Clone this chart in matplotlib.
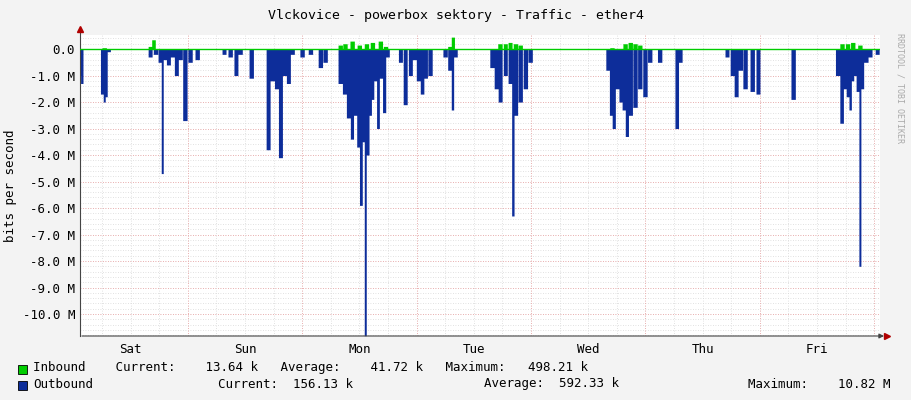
import numpy as np
import matplotlib
matplotlib.use("Agg")
import matplotlib.pyplot as plt
from matplotlib.ticker import FixedLocator

# hours since Saturday 00:00
out_hours = [1.4,1.6,6.1,6.5,6.9,7.3,16.1,17.2,18.2,18.6,19.1,19.9,20.8,21.6,22.4,23.4,24.5,26.0,
             31.6,32.9,34.1,35.0,37.3,40.9,41.7,42.6,43.4,44.3,45.1,45.9,48.0,49.7,51.8,52.8,
             56.0,56.8,57.7,58.5,59.1,59.7,60.4,60.8,61.2,61.7,62.3,62.7,63.3,63.9,64.5,65.2,65.8,
             68.6,69.6,70.7,71.5,72.3,73.2,73.8,74.8,78.0,79.0,79.5,80.1,
             87.8,88.7,89.5,90.6,91.6,92.2,92.7,93.7,94.8,95.8,
             112.1,112.8,113.2,114.1,114.7,115.5,116.1,116.8,117.8,118.8,119.9,120.9,123.0,126.6,127.2,
             137.1,138.2,139.0,139.9,140.9,142.4,143.6,151.0,
             160.3,161.2,161.8,162.4,162.9,163.5,163.9,164.5,165.0,165.4,166.2,167.1,168.6]
out_vals = [-1.0,-1.3,-1.7,-2.0,-1.8,-0.1,-0.3,-0.2,-0.5,-4.7,-0.4,-0.6,-0.3,-1.0,-0.4,-2.7,-0.5,-0.4,
            -0.2,-0.3,-1.0,-0.2,-1.1,-3.8,-1.2,-1.5,-4.1,-1.0,-1.3,-0.2,-0.3,-0.2,-0.7,-0.5,
            -1.3,-1.7,-2.6,-3.4,-2.5,-3.7,-5.9,-3.5,-10.82,-4.0,-2.5,-1.9,-1.2,-3.0,-1.1,-2.4,-0.3,
            -0.5,-2.1,-1.0,-0.4,-1.2,-1.7,-1.1,-1.0,-0.3,-0.8,-2.3,-0.3,
            -0.7,-1.5,-2.0,-1.0,-1.3,-6.3,-2.5,-2.0,-1.5,-0.5,
            -0.8,-2.5,-3.0,-1.5,-2.0,-2.3,-3.3,-2.5,-2.2,-1.5,-1.8,-0.5,-0.5,-3.0,-0.5,
            -0.3,-1.0,-1.8,-0.8,-1.5,-1.6,-1.7,-1.9,
            -1.0,-2.8,-1.5,-1.8,-2.3,-1.2,-1.0,-1.6,-8.2,-1.5,-0.5,-0.3,-0.2]
in_hours = [6.5,16.1,16.7,56.0,57.0,58.5,60.0,61.5,62.7,64.4,65.5,79.0,79.5,
            89.5,90.6,91.6,92.7,93.7,113.0,115.7,116.8,117.8,118.8,161.2,162.4,163.5,165.0]
in_vals = [0.05,0.1,0.35,0.15,0.2,0.3,0.15,0.2,0.25,0.3,0.1,0.1,0.45,
           0.2,0.2,0.25,0.2,0.15,0.05,0.2,0.25,0.2,0.15,0.2,0.2,0.25,0.15]

days = ["Sat","Sun","Mon","Tue","Wed","Thu","Fri"]
yticks = [0,-1,-2,-3,-4,-5,-6,-7,-8,-9,-10]
ylabels = ["0.0"] + [f"{v:.1f} M" for v in yticks[1:]]

t = np.arange(1.4, 169.2, 1/12)
def series(h, v, w=0.45):
    h = np.array(h); v = np.array(v); res = np.zeros_like(t)
    for i, tt in enumerate(t):
        d = np.abs(h - tt); j = d.argmin()
        if d[j] <= w: res[i] = v[j]
    return res
outb = series(out_hours, out_vals)
inb = series(in_hours, in_vals)

plt.rcParams['font.family'] = ['DejaVu Sans Mono']
fig = plt.figure(figsize=(9.11, 4.0), dpi=100, facecolor='#f3f3f3')
ax = fig.add_axes([80/911, 64/400, 800/911, 301/400])
ax.set_facecolor('white')
ax.set_xlim(1.4, 169.2)
ax.set_ylim(-10.83, 0.53)
for s in ax.spines.values(): s.set_visible(False)
for y in np.arange(-10.8, 0.6, 0.2):
    ax.axhline(y, color='#d8d8d8', lw=0.6, ls=(0,(1,2)), zorder=0)
for y in yticks:
    ax.axhline(y, color='#f0a0a0', lw=0.6, ls=(0,(1,2)), zorder=0)
for x in np.arange(6, 169, 6):
    ax.axvline(x, color='#d8d8d8', lw=0.6, ls=(0,(1,2)), zorder=0)
for x in np.arange(24, 169, 24):
    ax.axvline(x, color='#f0a0a0', lw=0.6, ls=(0,(1,2)), zorder=0)
ax.fill_between(t, 0, inb, step='mid', color='#00cc00', lw=0, zorder=2)
ax.fill_between(t, 0, outb, step='mid', color='#0d2d9a', lw=0, zorder=2)
ax.axhline(0, color='#00cc00', lw=1, zorder=3)
ax.yaxis.set_major_locator(FixedLocator(yticks))
ax.set_yticklabels(ylabels)
ax.set_xticks(np.arange(12, 169, 24))
ax.set_xticklabels(days)
ax.tick_params(length=0, labelsize=9, colors='#000000')
ax.tick_params(axis='x', pad=5)
ax.set_ylabel("bits per second", fontsize=9)
ax.annotate('', xy=(1.0085, 0), xytext=(-0.001, 0), xycoords='axes fraction',
            arrowprops=dict(arrowstyle='-|>', color='#444444', lw=0.8, mutation_scale=7))
ax.plot([1.0085], [0], marker='>', color='#b00000', ms=4, transform=ax.transAxes, clip_on=False)
ax.plot([0, 0], [0, 1.02], color='#444444', lw=0.8, transform=ax.transAxes, clip_on=False)
ax.plot([0], [1.02], marker='^', color='#b00000', ms=4, transform=ax.transAxes, clip_on=False)

fig.text(0.5, 0.962, "Vlckovice - powerbox sektory - Traffic - ether4", ha='center', va='center', fontsize=9.5)
fig.text(0.988, 0.78, "RRDTOOL / TOBI OETIKER", rotation=270, ha='center', va='center', fontsize=6, color='#aaaaaa')
fs = 9
fig.patches.append(plt.Rectangle((18/911, 1-374/400), 9/911, 9/400, transform=fig.transFigure, fc='#00cc00', ec='#000000', lw=0.6))
fig.patches.append(plt.Rectangle((18/911, 1-390/400), 9/911, 9/400, transform=fig.transFigure, fc='#0d2d9a', ec='#000000', lw=0.6))
fig.text(33/911, 1-368/400, "Inbound    Current:    13.64 k   Average:    41.72 k   Maximum:   498.21 k", va='center', fontsize=fs)
fig.text(33/911, 1-384/400, "Outbound", va='center', fontsize=fs)
fig.text(218/911, 1-384/400, "Current:  156.13 k", va='center', fontsize=fs)
fig.text(484/911, 1-384/400, "Average:  592.33 k", va='center', fontsize=fs)
fig.text(748/911, 1-384/400, "Maximum:    10.82 M", va='center', fontsize=fs)
fig.savefig("out.png", dpi=100, facecolor=fig.get_facecolor())
